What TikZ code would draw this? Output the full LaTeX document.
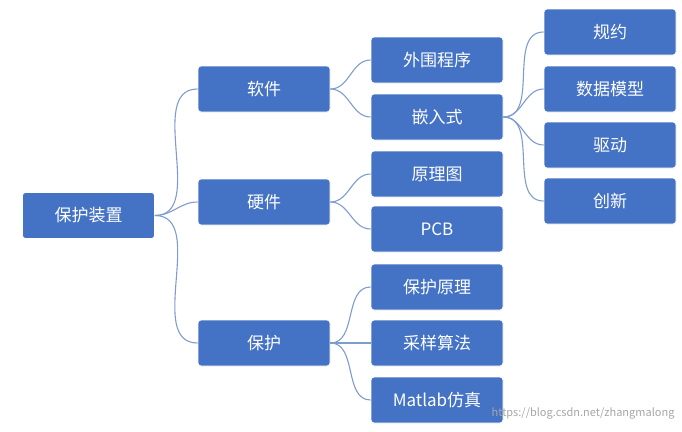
\documentclass[tikz,border=0pt]{standalone}
\usepackage{fontspec}
\setmainfont{Noto Sans CJK SC}
\colorlet{bx}{blue!45!cyan!60!black}
\definecolor{bx}{HTML}{4472C4}
\definecolor{lnx}{HTML}{7F9CCF}
\tikzset{
    box/.style={fill=bx,draw=white,thick,rounded corners=3pt,text=white,
        minimum width=132pt,minimum height=46pt,inner sep=0pt,font=\fontsize{17pt}{19pt}\selectfont},
    link/.style={lnx,line width=1.1pt}
}
\begin{document}
\begin{tikzpicture}[x=1pt,y=-1pt]
    \useasboundingbox (0,0) rectangle (682,431);
    \node [box] (root) at (88.5,215.5) {保护装置};
    \node [box] (soft) at (264,89) {软件};
    \node [box] (hard) at (264,202) {硬件};
    \node [box] (prot) at (264,343) {保护};
    \node [box] (peri) at (437,60) {外围程序};
    \node [box] (embd) at (437,117) {嵌入式};
    \node [box] (sche) at (437,174) {原理图};
    \node [box] (pcb) at (437,229) {PCB};
    \node [box] (prin) at (437,287) {保护原理};
    \node [box] (samp) at (437,343) {采样算法};
    \node [box] (matl) at (437,400) {Matlab仿真};
    \node [box] (spec) at (610,32) {规约};
    \node [box] (data) at (610,89) {数据模型};
    \node [box] (driv) at (610,145) {驱动};
    \node [box] (inno) at (610,201) {创新};
    \foreach \a/\b in {root/soft,root/hard,root/prot,soft/peri,soft/embd,
        hard/sche,hard/pcb,prot/prin,prot/samp,prot/matl,
        embd/spec,embd/data,embd/driv,embd/inno} {
        \draw [link] (\a.east) to [out=0,in=180] (\b.west);
    }
    \node [gray!70,font=\fontsize{11pt}{12pt}\selectfont,anchor=east] (mark) at (678,413) {https://blog.csdn.net/zhangmalong};
\end{tikzpicture}
\end{document}
